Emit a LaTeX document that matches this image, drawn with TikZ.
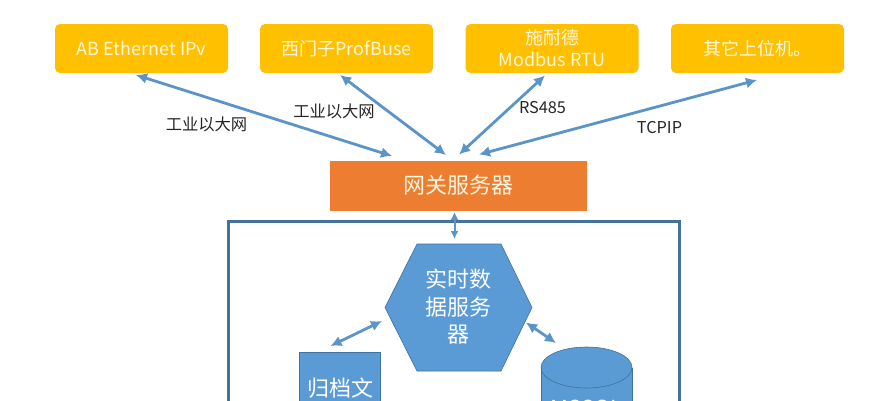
\documentclass[tikz,border=0pt]{standalone}
\usepackage{fontspec}
\setmainfont{Noto Sans CJK SC}
\usetikzlibrary{arrows.meta,shapes.geometric}
\tikzset{
  source/.style={fill=srcyellow,rounded corners=5pt,minimum width=173pt,minimum height=49pt,inner sep=0pt,text=srctext,align=center,font=\fontsize{18}{22}\selectfont},
  gateway/.style={fill=gworange,minimum width=257pt,minimum height=50pt,inner sep=0pt,text=srctext,font=\fontsize{22}{26}\selectfont},
  bluetext/.style={text=white,align=center,font=\fontsize{22}{27.5}\selectfont},
  lbl/.style={text=black!85,inner sep=0pt,font=\fontsize{16.3}{19}\selectfont},
  link/.style={draw=linkblue,line width=2.8pt,{Latex[length=11pt,width=11pt]}-{Latex[length=11pt,width=11pt]}},
  thinlink/.style={draw=linkblue,line width=2pt,{Latex[length=8pt,width=8pt]}-{Latex[length=8pt,width=8pt]}},
}
\definecolor{srcyellow}{HTML}{FFC000}
\definecolor{srctext}{HTML}{FFF6E0}
\definecolor{gworange}{HTML}{ED7D31}
\definecolor{linkblue}{HTML}{5B94C8}
\definecolor{fillblue}{HTML}{5B9BD5}
\definecolor{edgeblue}{HTML}{41719C}
\definecolor{framebl}{HTML}{44729D}
\begin{document}
\begin{tikzpicture}[x=1pt,y=-1pt]
\useasboundingbox (0,0) rectangle (889,400);
\clip (0,0) rectangle (889,400);
\fill[white] (0,0) rectangle (889,400);
% outer frame
\draw[framebl,line width=2.8pt] (228.5,430) -- (228.5,221.5) -- (679.5,221.5) -- (679.5,430);
% top row
\node[source] (ab) at (141.5,48.5) {AB Ethernet IPv};
\node[source] (siemens) at (346.5,48.5) {西门子ProfBuse};
\node[source] (schneider) at (552,48.5) {施耐德\\Modbus RTU};
\node[source] (other) at (757.5,48.5) {其它上位机。};
\node[gateway] (gw) at (458.5,185.5) {网关服务器};
% hexagon
\draw[fill=fillblue,draw=edgeblue,line width=0.6pt] (385,307.5) -- (417,244) -- (501,244) -- (532,307.5) -- (501,371) -- (417,371) -- cycle;
\node[bluetext] (hex) at (458.5,307) {实时数\\据服务\\器};
% archive
\draw[fill=fillblue,draw=edgeblue,line width=0.6pt] (299.5,352.5) rectangle (380,430);
\node[bluetext] (arch) at (340,388) {归档文};
% cylinder
\draw[fill=fillblue,draw=edgeblue,line width=0.6pt] (541,367.5) -- (541,430) -- (632,430) -- (632,367.5);
\draw[fill=fillblue,draw=edgeblue,line width=0.6pt] (586.5,367.5) ellipse [x radius=45.5pt,y radius=20.5pt];
\node[bluetext] (db) at (586.5,410) {MSSQL};
% connector ends
\coordinate (a1) at (136,75);
\coordinate (a2) at (392,156);
\coordinate (b1) at (340,75);
\coordinate (b2) at (446,155);
\coordinate (c1) at (545,75.5);
\coordinate (c2) at (459,154.5);
\coordinate (d1) at (757,80);
\coordinate (d2) at (479,154.5);
\coordinate (e1) at (454.5,212);
\coordinate (e2) at (454.5,239);
\coordinate (f1) at (330.5,346);
\coordinate (f2) at (382,321);
\coordinate (g1) at (526,322.5);
\coordinate (g2) at (556,343);
\draw[link] (a1) -- (a2);
\draw[link] (b1) -- (b2);
\draw[link] (c1) -- (c2);
\draw[link] (d1) -- (d2);
\draw[thinlink] (e1) -- (e2);
\draw[link] (f1) -- (f2);
\draw[link] (g1) -- (g2);
% labels
\node[lbl] (l1) at (206.5,124) {工业以大网};
\node[lbl] (l2) at (334,111) {工业以大网};
\node[lbl] (l3) at (542.5,108) {RS485};
\node[lbl] (l4) at (659.5,127.5) {TCPIP};
\end{tikzpicture}
\end{document}
